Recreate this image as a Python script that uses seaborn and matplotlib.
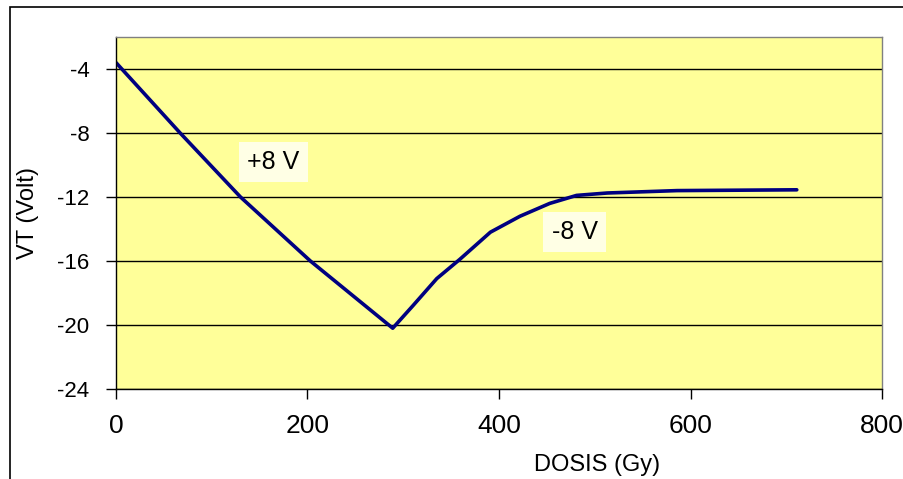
import matplotlib
matplotlib.use("Agg")
import matplotlib.pyplot as plt
import seaborn as sns
import pandas as pd
from matplotlib.patches import Rectangle

# datos
dosis = [0, 67, 130, 203, 289, 310, 335, 359, 391, 422, 453, 481, 513, 586, 711]
vt = [-3.6, -8.0, -12.0, -16.0, -20.2, -18.8, -17.1, -15.9, -14.2, -13.2, -12.4,
      -11.9, -11.75, -11.6, -11.55]
yticks = [-4, -8, -12, -16, -20, -24]
xticks = [0, 200, 400, 600, 800]

df = pd.DataFrame({"dosis": dosis, "vt": vt})

sns.set_style("white")
plt.rcParams["font.family"] = ["Liberation Sans", "DejaVu Sans"]
plt.rcParams["text.color"] = "black"
plt.rcParams["axes.labelcolor"] = "black"
plt.rcParams["xtick.color"] = "black"
plt.rcParams["ytick.color"] = "black"

fig = plt.figure(figsize=(9.04, 4.79), dpi=100)
ax = fig.add_axes([116 / 904, 1 - 389 / 479, 766 / 904, 352 / 479])
ax.set_facecolor("#FFFF99")

sns.lineplot(data=df, x="dosis", y="vt", color="#000080", linewidth=2.6, ax=ax)

ax.set_xlim(0, 800)
ax.set_ylim(-24, -2)
ax.set_xticks(xticks)
ax.set_yticks(yticks)
ax.set_xticklabels([str(t) for t in xticks], fontsize=19)
ax.set_yticklabels([str(t) for t in yticks], fontsize=16)
for t in yticks:
    ax.axhline(t, color="black", linewidth=1, zorder=1)

ax.tick_params(axis="x", direction="out", length=7, width=1, pad=11, bottom=True)
ax.tick_params(axis="y", direction="out", length=7, width=1, pad=12, left=True)

for s in ["left", "bottom"]:
    ax.spines[s].set_color("black")
    ax.spines[s].set_linewidth(1)
for s in ["top", "right"]:
    ax.spines[s].set_color("#808080")
    ax.spines[s].set_linewidth(1)

ax.set_xlabel("DOSIS (Gy)", fontsize=17)
ax.set_ylabel("VT (Volt)", fontsize=17)
ax.xaxis.set_label_coords(0.628, -0.185)
ax.yaxis.set_label_coords(-0.1, 0.5)

# etiquetas de los tramos
box = dict(facecolor="white", edgecolor="none", alpha=0.75, pad=6)
ax.text(137, -9.8, "+8 V", fontsize=18, va="center", ha="left", bbox=box)
ax.text(455, -14.2, "-8 V", fontsize=18, va="center", ha="left", bbox=box)

# marco exterior
fig.patches.append(Rectangle((10 / 904, -0.1), 1.2, 1.1 - 7 / 479, transform=fig.transFigure,
                             fill=False, edgecolor="black", linewidth=1.2))

fig.savefig("out.png", dpi=100)
